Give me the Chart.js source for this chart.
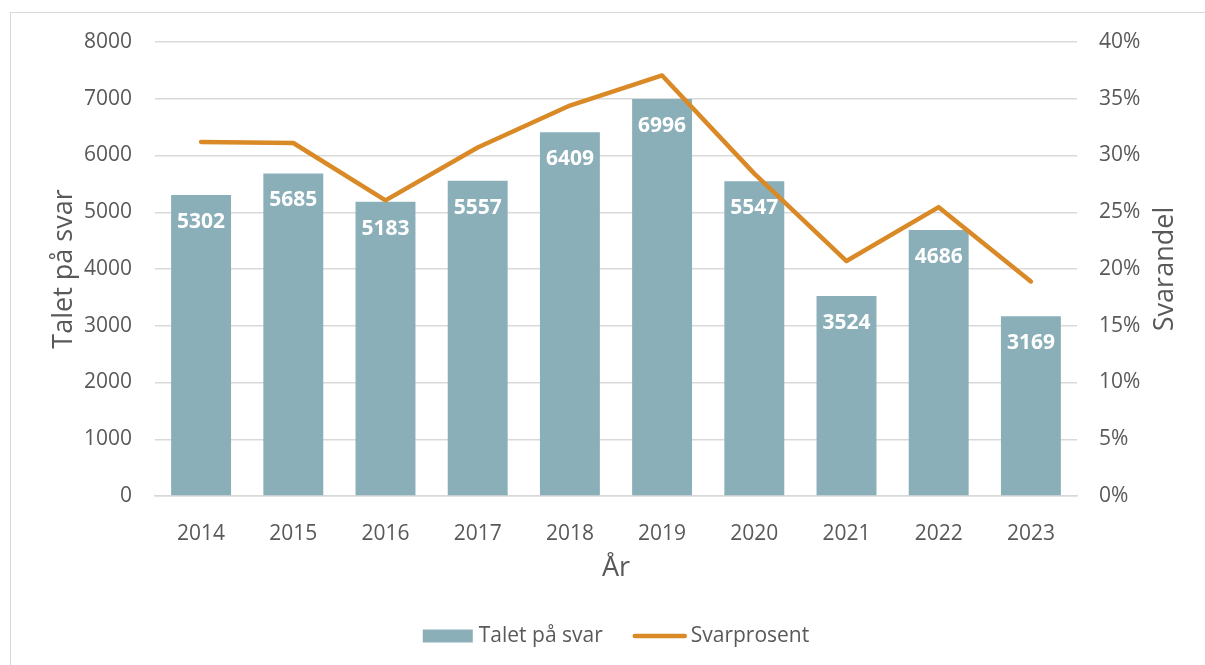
<!DOCTYPE html>
<html>
<head>
<meta charset="utf-8">
<script src="https://cdn.jsdelivr.net/npm/chart.js@4"></script>
<style>
  html, body { margin: 0; padding: 0; background: #fff; }
  #wrap { position: relative; width: 1205px; height: 665px; overflow: hidden; }
  #frame { position: absolute; left: 10px; top: 12px; width: 1220px; height: 680px; border: 1px solid #d9d9d9; }
  canvas { position: absolute; left: 0; top: 0; }
</style>
</head>
<body>
<div id="wrap">
  <div id="frame"></div>
  <canvas id="chart" width="1205" height="665"></canvas>
</div>
<script>
// Data
const years = ['2014', '2015', '2016', '2017', '2018', '2019', '2020', '2021', '2022', '2023'];
const responses = [5302, 5685, 5183, 5557, 6409, 6996, 5547, 3524, 4686, 3169];
const responseRate = [31.2, 31.1, 26.05, 30.7, 34.4, 37.05, 28.4, 20.7, 25.45, 18.9];
const rightTitle = 'Svarandel';

const FONT = "'Open Sans', sans-serif";
const GREY = '#595959';
const BAR = '#8AAFB9';
const LINE = '#D98A26';
const GRID = '#d9d9d9';

// white value labels inside the top of each bar
const barLabels = {
    id: 'barLabels',
    afterDatasetDraw(chart, args) {
        if (args.index !== 0) return;
        const ctx = chart.ctx;
        ctx.save();
        ctx.font = 'bold 21px ' + FONT;
        ctx.fillStyle = '#fff';
        ctx.textAlign = 'center';
        ctx.textBaseline = 'middle';
        args.meta.data.forEach((bar, i) => {
            ctx.fillText(responses[i], bar.x, bar.y + 27);
        });
        ctx.restore();
    }
};

// right axis title, read bottom-to-top like the left one
const rightAxisTitle = {
    id: 'rightAxisTitle',
    afterDraw(chart) {
        const ctx = chart.ctx;
        const s = chart.scales.y1;
        ctx.save();
        ctx.translate(s.right - 40, (s.top + s.bottom) / 2);
        ctx.rotate(-Math.PI / 2);
        ctx.font = '27px ' + FONT;
        ctx.fillStyle = GREY;
        ctx.textAlign = 'center';
        ctx.textBaseline = 'middle';
        ctx.fillText(rightTitle, 0, 0);
        ctx.restore();
    }
};

// legend under the chart, centred on the plot area
const bottomLegend = {
    id: 'bottomLegend',
    afterDraw(chart) {
        const ctx = chart.ctx;
        const area = chart.chartArea;
        const names = chart.data.datasets.map(d => d.label);
        const y = 636;
        ctx.save();
        ctx.font = '21px ' + FONT;
        ctx.textBaseline = 'middle';
        const w0 = ctx.measureText(names[0]).width;
        const w1 = ctx.measureText(names[1]).width;
        const total = 50 + 6 + w0 + 30 + 54 + 4 + w1;
        let x = (area.left + area.right) / 2 - total / 2;
        ctx.fillStyle = BAR;
        ctx.fillRect(x, y - 6.5, 50, 13);
        x += 56;
        ctx.fillStyle = GREY;
        ctx.fillText(names[0], x, y);
        x += w0 + 30;
        ctx.strokeStyle = LINE;
        ctx.lineWidth = 4.5;
        ctx.lineCap = 'round';
        ctx.beginPath();
        ctx.moveTo(x + 2, y);
        ctx.lineTo(x + 52, y);
        ctx.stroke();
        x += 58;
        ctx.fillText(names[1], x, y);
        ctx.restore();
    }
};

new Chart(document.getElementById('chart'), {
    data: {
        labels: years,
        datasets: [{
            type: 'bar',
            label: 'Talet på svar',
            data: responses,
            backgroundColor: BAR,
            yAxisID: 'y',
            order: 1,
            categoryPercentage: 1,
            barPercentage: 0.65
        }, {
            type: 'line',
            label: 'Svarprosent',
            data: responseRate,
            borderColor: LINE,
            borderWidth: 4.5,
            borderCapStyle: 'round',
            borderJoinStyle: 'round',
            pointRadius: 0,
            tension: 0,
            yAxisID: 'y1',
            order: 0
        }]
    },
    options: {
        responsive: false,
        animation: false,
        layout: { padding: { top: 42 } },
        plugins: {
            legend: { display: false },
            tooltip: { enabled: false }
        },
        scales: {
            x: {
                grid: { display: false },
                border: { color: GRID, width: 1.5 },
                ticks: { color: GREY, font: { family: FONT, size: 21 }, padding: 17 },
                title: {
                    display: true, text: 'År', color: GREY,
                    font: { family: FONT, size: 27 },
                    padding: { top: 0, bottom: 80 }
                },
                afterFit(s) { s.height = 169; }
            },
            y: {
                position: 'left',
                min: 0, max: 8000,
                ticks: {
                    stepSize: 1000, color: GREY, font: { family: FONT, size: 21 }, padding: 23,
                    callback: v => String(v)
                },
                grid: { color: GRID, lineWidth: 1.5, drawTicks: false },
                border: { display: false },
                title: {
                    display: true, text: 'Talet på svar', color: GREY,
                    font: { family: FONT, size: 27 },
                    padding: { top: 48, bottom: 0 }
                },
                afterFit(s) { s.width = 155; }
            },
            y1: {
                position: 'right',
                min: 0, max: 40,
                ticks: {
                    stepSize: 5, color: GREY, font: { family: FONT, size: 21 }, padding: 22,
                    callback: v => v + '%'
                },
                grid: { display: false, drawTicks: false },
                border: { display: false },
                title: { display: false },
                afterFit(s) { s.width = 128; }
            }
        }
    },
    plugins: [barLabels, rightAxisTitle, bottomLegend]
});
</script>
</body>
</html>
